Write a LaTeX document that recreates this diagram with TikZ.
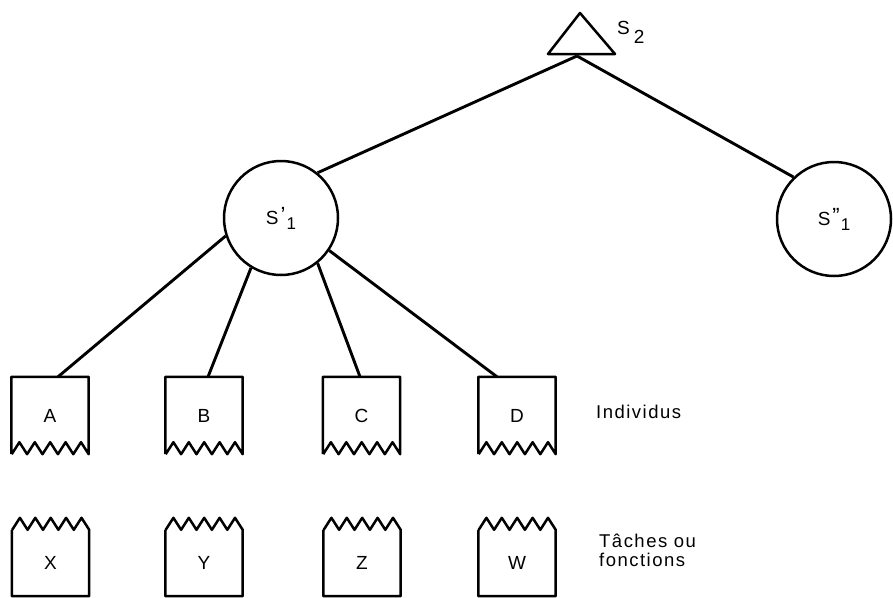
\documentclass[tikz,border=0pt]{standalone}
\usepackage{fontspec}
\setmainfont{Liberation Sans}[LetterSpace=8]
\usetikzlibrary{calc}

% rectangle outline whose lower edge is torn (five teeth)
\newcommand\tornbottom[1]{%
  \draw[outline] (#1.south west) -- (#1.north west) -- (#1.north east) -- (#1.south east)
    \foreach \k in {1,...,5}{ -- ++(-7.7pt,12pt) -- ++(-7.7pt,-12pt)};}
% rectangle outline whose upper edge is torn (five teeth)
\newcommand\torntop[1]{%
  \draw[outline] (#1.north west) -- (#1.south west) -- (#1.south east) -- (#1.north east)
    \foreach \k in {1,...,5}{ -- ++(-7.7pt,12pt) -- ++(-7.7pt,-12pt)};}

\begin{document}
\begin{tikzpicture}[x=1pt,y=-1pt,line join=round,
  tie/.style={line width=2.9pt},
  outline/.style={line width=2.5pt},
  unit/.style={circle,draw,line width=2.5pt,minimum size=114pt,inner sep=0pt,
    font=\fontsize{19}{19}\selectfont},
  card/.style={rectangle,minimum width=77pt,minimum height=77pt,inner sep=0pt,
    font=\fontsize{19}{19}\selectfont},
  task/.style={rectangle,minimum width=77pt,minimum height=66pt,inner sep=0pt,
    font=\fontsize{19}{19}\selectfont},
  caption/.style={anchor=west,inner sep=0pt,align=left,
    font=\fontsize{18.5}{19}\selectfont}]
\useasboundingbox (0,0) rectangle (893,597);

% top of the hierarchy
\coordinate (s2) at (577,56);
\draw[outline] (580,13) -- (615,54) -- (548,54) -- cycle;
\node[anchor=west,inner sep=0pt,font=\fontsize{19}{19}\selectfont] (s2lab) at (617,32)
  {S\kern4pt\raisebox{-9pt}{2}};

% intermediate units
\node[unit] (s1)  at (281,218)
  {S\kern2pt\raisebox{2pt}{\fontsize{22}{22}\selectfont '}\kern1pt\raisebox{-5pt}{\fontsize{17}{17}\selectfont 1}};
\node[unit] (s1b) at (834,219)
  {S\kern2pt\raisebox{2pt}{\fontsize{22}{22}\selectfont ''}\kern1pt\raisebox{-5pt}{\fontsize{17}{17}\selectfont 1}};

% individuals
\node[card] (A) at (50,415.5)  {A};
\node[card] (B) at (204,415.5) {B};
\node[card] (C) at (361.5,415.5) {C};
\node[card] (D) at (517,415.5) {D};
\foreach \n in {A,B,C,D}{\tornbottom{\n}}

% tasks
\node[task] (X) at (50.5,563) {X};
\node[task] (Y) at (204,563)  {Y};
\node[task] (Z) at (362,563)  {Z};
\node[task] (W) at (517,563)  {W};
\foreach \n in {X,Y,Z,W}{\torntop{\n}}

% links
\draw[tie] (s2) -- (s1.51);
\draw[tie] (s2) -- (s1b.134);
\draw[tie] (s1.198) -- ($(A.north)+(8pt,0)$);
\draw[tie] (s1.239) -- ($(B.north)+(4pt,0)$);
\draw[tie] (s1.309) -- ($(C.north)+(-1.5pt,0)$);
\draw[tie] (s1.326) -- ($(D.north)+(-20pt,0)$);

% row captions
\node[caption] (ind) at (596,412) {Individus};
\node[caption] (tf)  at (599,550) {Tâches ou\\fonctions};
\end{tikzpicture}
\end{document}
